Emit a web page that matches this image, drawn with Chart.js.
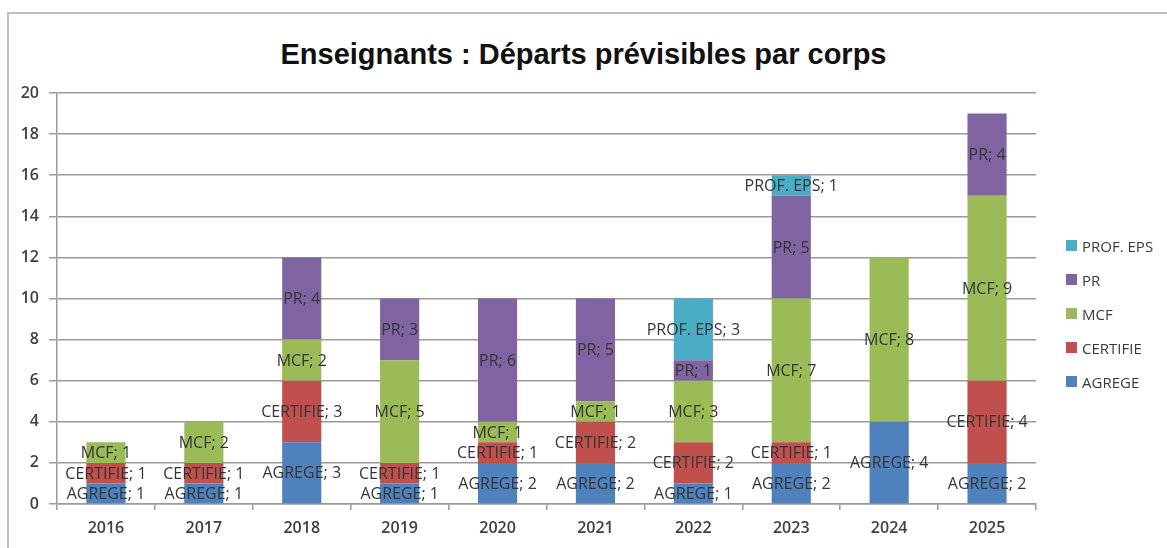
<!DOCTYPE html>
<html lang="fr">
<head>
<meta charset="utf-8">
<title>Enseignants : Départs prévisibles par corps</title>
<script src="https://cdn.jsdelivr.net/npm/chart.js@4/dist/chart.umd.min.js"></script>
<style>
  html, body { margin: 0; padding: 0; background: #fff; }
  #wrap { position: relative; width: 1167px; height: 548px; overflow: hidden; }
  #frame { position: absolute; left: 7px; top: 12px; width: 1300px; height: 700px;
           border-top: 2px solid #bdbdbd; border-left: 2px solid #bdbdbd; }
  #title { position: absolute; left: 0; width: 1167px; top: 40px; text-align: center;
           font: bold 29px/29px "Liberation Sans", Arial, sans-serif; color: #111; }
  #chart { position: absolute; left: 0; top: 0; }
  #legend { position: absolute; left: 1066px; top: 236px; margin: 0; padding: 0; list-style: none;
            font: 15px "Open Sans", sans-serif; color: #3a3a3a; }
  #legend li { height: 34px; display: flex; align-items: flex-start; line-height: 20px; }
  #legend span { display: inline-block; width: 11px; height: 11px; margin: 4px 5px 0 0; }
</style>
</head>
<body>
<div id="wrap">
  <div id="frame"></div>
  <div id="title">Enseignants : Départs prévisibles par corps</div>
  <canvas id="chart" width="1167" height="548"></canvas>
  <ul id="legend"></ul>
</div>
<script>
// Departures per year, one array per corps
const years = ['2016','2017','2018','2019','2020','2021','2022','2023','2024','2025'];
const agrege   = [1, 1, 3, 1, 2, 2, 1, 2, 4, 2];
const certifie = [1, 1, 3, 1, 1, 2, 2, 1, 0, 4];
const mcf      = [1, 2, 2, 5, 1, 1, 3, 7, 8, 9];
const pr       = [0, 0, 4, 3, 6, 5, 1, 5, 0, 4];
const profEps  = [0, 0, 0, 0, 0, 0, 3, 1, 0, 0];
const yTicks   = [0, 2, 4, 6, 8, 10, 12, 14, 16, 18, 20];

const series = [
    {label: 'AGREGE', data: agrege, color: '#4F81BD'},
    {label: 'CERTIFIE', data: certifie, color: '#C0504D'},
    {label: 'MCF', data: mcf, color: '#9BBB59'},
    {label: 'PR', data: pr, color: '#8064A2'},
    {label: 'PROF. EPS', data: profEps, color: '#4BACC6'}
];

// "NOM; valeur" written in the middle of each segment
const segmentLabels = {
    id: 'segmentLabels',
    afterDatasetsDraw(chart) {
        const ctx = chart.ctx;
        ctx.save();
        ctx.font = '16px "Open Sans", sans-serif';
        ctx.fillStyle = '#353535';
        ctx.textAlign = 'center';
        ctx.textBaseline = 'middle';
        chart.data.datasets.forEach((ds, i) => {
            chart.getDatasetMeta(i).data.forEach((bar, j) => {
                const v = ds.data[j];
                if (!v) return;
                ctx.fillText(ds.label + '; ' + v, bar.x, (bar.y + bar.base) / 2 + 1);
            });
        });
        ctx.restore();
    }
};

const ctx = document.getElementById('chart').getContext('2d');
const chart = new Chart(ctx, {
    type: 'bar',
    data: {
        labels: years,
        datasets: series.map(s => ({
            label: s.label, data: s.data, backgroundColor: s.color,
            borderWidth: 0, barPercentage: 0.4, categoryPercentage: 1
        }))
    },
    options: {
        responsive: false,
        animation: false,
        layout: {padding: {top: 93, right: 131, left: 0, bottom: 0}},
        plugins: {legend: {display: false}, title: {display: false}, tooltip: {enabled: false}},
        scales: {
            x: {
                stacked: true,
                afterFit: s => { s.height = 44; },
                grid: {offset: true, drawOnChartArea: false, tickLength: 6, color: '#9a9a9a', lineWidth: 1.5},
                border: {color: '#9a9a9a', width: 1.5},
                ticks: {padding: 9, color: '#404040', font: {family: 'Open Sans', size: 16, weight: '600'}}
            },
            y: {
                stacked: true, min: 0, max: 20,
                afterFit: s => { s.width = 57; },
                afterBuildTicks: s => { s.ticks = yTicks.map(v => ({value: v})); },
                grid: {color: '#9a9a9a', lineWidth: 1.5, tickLength: 8},
                border: {color: '#9a9a9a', width: 1.5},
                ticks: {padding: 10, color: '#404040', font: {family: 'Open Sans', size: 16, weight: '600'}}
            }
        }
    },
    plugins: [segmentLabels]
});

// Legend, top entry = top of the stack
const legend = document.getElementById('legend');
chart.data.datasets.slice().reverse().forEach(ds => {
    const li = document.createElement('li');
    li.innerHTML = `<span style="background:${ds.backgroundColor}"></span>${ds.label}`;
    legend.appendChild(li);
});
</script>
</body>
</html>
